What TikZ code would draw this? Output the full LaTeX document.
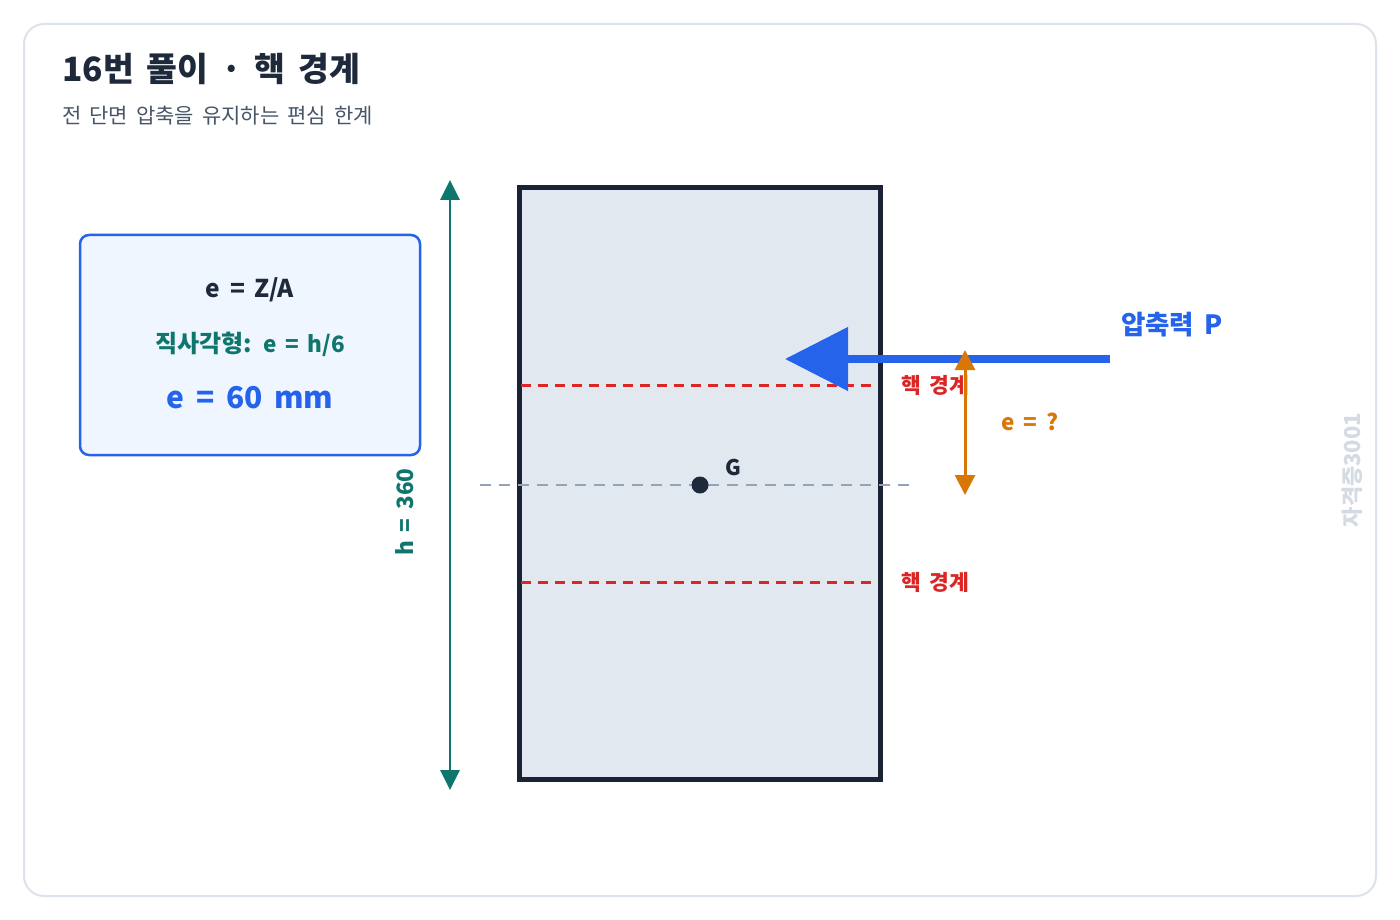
\documentclass[tikz,border=0pt]{standalone}
\usepackage{fontspec}
\setmainfont[WordSpace=1.7]{Noto Sans CJK KR}
\usetikzlibrary{arrows.meta}
\definecolor{ink}{HTML}{1E293B}
\definecolor{frame}{HTML}{1A2233}
\definecolor{cardline}{HTML}{DCE3EC}
\definecolor{blueA}{HTML}{2563EB}
\definecolor{boxfill}{HTML}{EFF6FF}
\definecolor{tealA}{HTML}{0F766E}
\definecolor{secfill}{HTML}{E2E8F0}
\definecolor{grayA}{HTML}{94A3B8}
\definecolor{redA}{HTML}{DC2626}
\definecolor{orangeA}{HTML}{D97706}
\definecolor{subgray}{HTML}{475569}
\definecolor{wm}{HTML}{D5DBE3}
\tikzset{
  lbl/.style={inner sep=0pt, font=\bfseries},
  kernline/.style={redA, line width=3pt, dash pattern=on 10pt off 7pt},
  kernlbl/.style={lbl, text=redA, font=\fontsize{21.5}{25}\selectfont\bfseries},
}
\begin{document}
\begin{tikzpicture}[x=1pt,y=-1pt]
\useasboundingbox (0,0) rectangle (1400,920);
\fill[white] (0,0) rectangle (1400,920);
% card
\draw[cardline, line width=2pt, fill=white, rounded corners=20pt] (24,24) rectangle (1376,896);
% title
\node[lbl, anchor=west, text=ink, font=\fontsize{33.5}{38}\selectfont\bfseries] (title) at (62,69) {16번 풀이 · 핵 경계};
\node[inner sep=0pt, anchor=west, text=subgray, font=\fontsize{21}{24}\selectfont] (subtitle) at (62,116) {전 단면 압축을 유지하는 편심 한계};
% formula box
\node[draw=blueA, line width=2.5pt, fill=boxfill, rounded corners=9pt, minimum width=340pt, minimum height=220pt, inner sep=0pt] (fbox) at (250,345) {};
\node[lbl, text=ink, font=\fontsize{24.5}{28}\selectfont\bfseries] (f1) at (250,290) {e = Z/A};
\node[lbl, text=tealA, font=\fontsize{24}{28}\selectfont\bfseries] (f2) at (250,344) {직사각형: {\fontsize{22.5}{26}\selectfont e = h/6}};
\node[lbl, text=blueA, font=\fontsize{30}{34}\selectfont\bfseries] (f3) at (250,398) {e = 60 mm};
% section
\node[draw=frame, line width=5pt, fill=secfill, minimum width=361pt, minimum height=591pt, inner sep=0pt] (sec) at (699.5,483.5) {};
% kern lines
\coordinate (k1a) at (521,385); \coordinate (k1b) at (878,385);
\coordinate (k2a) at (521,582); \coordinate (k2b) at (878,582);
\draw[kernline] (k1a) -- (k1b);
\draw[kernline] (k2a) -- (k2b);
\node[kernlbl] (kl1) at (935,385) {핵 경계};
\node[kernlbl] (kl2) at (935,582) {핵 경계};
% centroid axis
\coordinate (ca) at (480,485); \coordinate (cb) at (912,485);
\draw[grayA, line width=2.8pt, dash pattern=on 11pt off 8pt] (ca) -- (cb);
\node[circle, fill=ink, minimum size=17pt, inner sep=0pt] (G) at (700,485) {};
\node[lbl, text=ink, font=\fontsize{21.5}{25}\selectfont\bfseries] (Glbl) at (733,467) {G};
% h dimension
\coordinate (ht) at (450,180); \coordinate (hb) at (450,790);
\draw[tealA, line width=2.8pt, {Triangle[length=20pt,width=19pt]}-{Triangle[length=20pt,width=19pt]}] (ht) -- (hb);
\node[lbl, text=tealA, rotate=90, font=\fontsize{22.5}{26}\selectfont\bfseries] (hlbl) at (405,512) {h = 360};
% force
\coordinate (ps) at (1110,359); \coordinate (pt) at (785,359);
\draw[blueA, line width=8pt, -{Triangle[length=63pt,width=62pt]}] (ps) -- (pt);
\node[lbl, text=blueA, font=\fontsize{26.5}{30}\selectfont\bfseries] (plbl) at (1172,325) {압축력 P};
% eccentricity
\coordinate (et) at (965,350); \coordinate (eb) at (965,495);
\draw[orangeA, line width=3pt, {Triangle[length=20pt,width=20pt]}-{Triangle[length=20pt,width=20pt]}] (et) -- (eb);
\node[lbl, text=orangeA, font=\fontsize{22.5}{26}\selectfont\bfseries] (elbl) at (1030,422) {e = ?};
% watermark
\node[lbl, text=wm, rotate=90, font=\fontsize{22}{26}\selectfont\bfseries] (wmk) at (1352,470) {자격증3001};
\end{tikzpicture}
\end{document}
